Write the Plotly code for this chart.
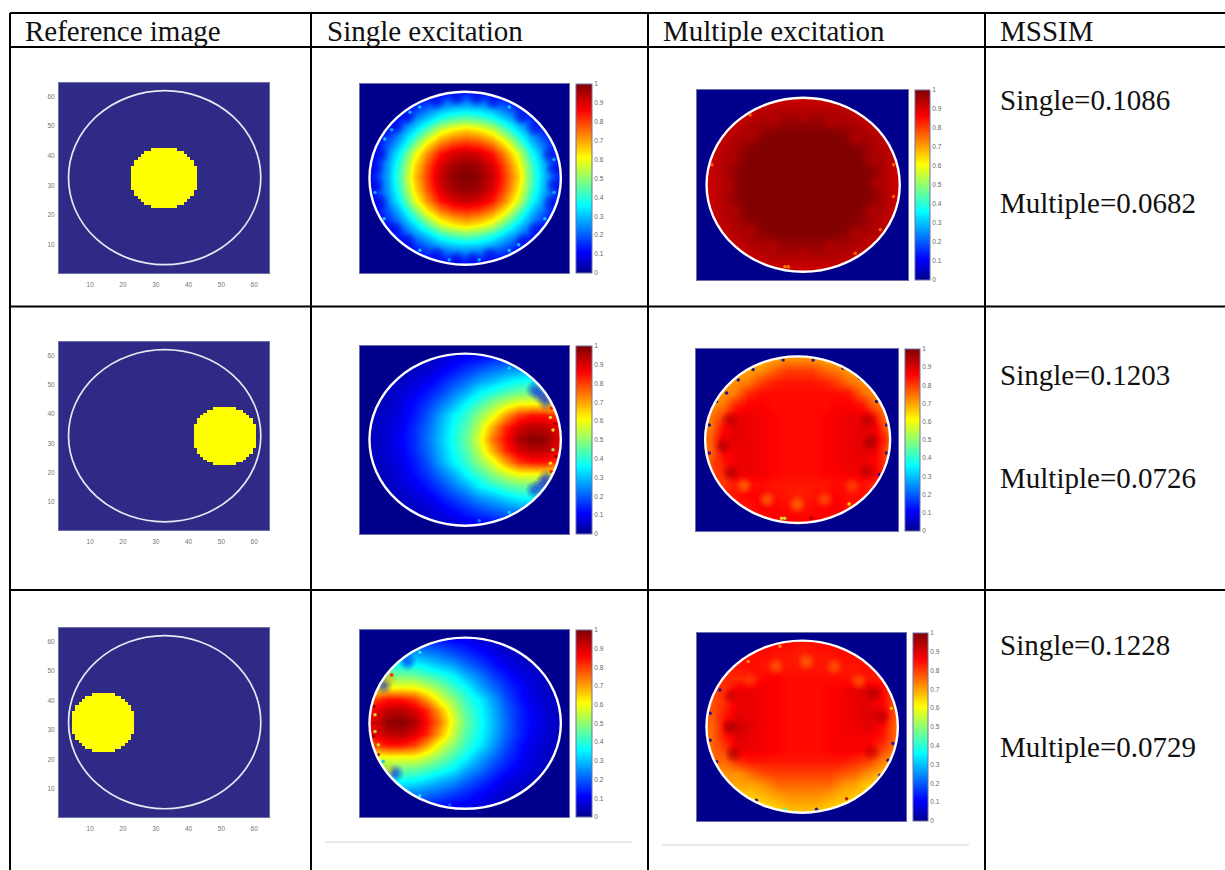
import numpy as np
import plotly.graph_objects as go

W, H = 1225, 870

# ---------- text ----------
headers = ["Reference image", "Single excitation", "Multiple excitation", "MSSIM"]
mssim_single = ["Single=0.1086", "Single=0.1203", "Single=0.1228"]
mssim_multiple = ["Multiple=0.0682", "Multiple=0.0726", "Multiple=0.0729"]

# ---------- axis grids ----------
grid_xy = [1, 5, 9, 13, 17, 21, 25, 29, 33, 37, 41, 45, 49, 53, 57, 61, 65]
ref_ticks = [10, 20, 30, 40, 50, 60]
cbar_ticks = [0, 0.1, 0.2, 0.3, 0.4, 0.5, 0.6, 0.7, 0.8, 0.9, 1]
cbar_labels = ["0", "0.1", "0.2", "0.3", "0.4", "0.5", "0.6", "0.7", "0.8", "0.9", "1"]

# ---------- reference images: yellow disc, row spans ----------
blob_rows = list(range(23, 43))
blob_inset = [6, 4, 3, 2, 1, 1, 0, 0, 0, 0, 0, 0, 0, 0, 1, 1, 2, 3, 4, 6]
blob_1_span = (23, 42)
blob_2_span = (42, 60)
blob_3_span = (5, 23)

# ---------- reconstructed fields, percent, rows from y=1 upward ----------
single_1 = [
 [8,8,8,8,8,8,8,8,8,8,8,8,8,8,8,8,8],
 [8,8,8,8,8,10,12,14,15,14,12,10,8,8,8,8,8],
 [8,8,8,10,13,19,24,27,28,27,24,19,13,10,8,8,8],
 [8,8,10,14,23,30,38,43,45,43,38,30,23,14,10,8,8],
 [8,8,13,23,33,45,57,63,66,63,57,45,33,23,13,8,8],
 [8,10,19,30,45,61,72,78,80,78,72,61,45,30,19,10,8],
 [8,12,24,38,57,72,84,90,92,90,84,72,57,38,24,12,8],
 [8,14,27,43,63,78,90,96,98,96,90,78,63,43,27,14,8],
 [8,15,28,45,66,80,92,98,100,98,92,80,66,45,28,15,8],
 [8,14,27,43,63,78,90,96,98,96,90,78,63,43,27,14,8],
 [8,12,24,38,57,72,84,90,92,90,84,72,57,38,24,12,8],
 [8,10,19,30,45,61,72,78,80,78,72,61,45,30,19,10,8],
 [8,8,13,23,33,45,57,63,66,63,57,45,33,23,13,8,8],
 [8,8,10,14,23,30,38,43,45,43,38,30,23,14,10,8,8],
 [8,8,8,10,13,19,24,27,28,27,24,19,13,10,8,8,8],
 [8,8,8,8,8,10,12,14,15,14,12,10,8,8,8,8,8],
 [8,8,8,8,8,8,8,8,8,8,8,8,8,8,8,8,8],
]
multi_1 = [
 [92,92,92,92,92,92,92,92,92,92,92,92,92,92,92,92,92],
 [92,92,92,92,92,92,92,92,92,92,92,92,92,92,92,92,92],
 [92,92,92,92,93,94,95,95,95,95,95,94,93,92,92,92,92],
 [92,92,92,93,95,96,97,98,98,98,97,96,95,93,92,92,92],
 [92,92,93,95,97,99,100,100,100,100,100,99,97,95,93,92,92],
 [92,92,94,96,99,100,100,100,100,100,100,100,99,96,94,92,92],
 [92,92,95,98,100,100,100,100,100,100,100,100,100,98,95,92,92],
 [92,92,95,99,100,100,100,100,100,100,100,100,100,99,95,92,92],
 [92,92,95,99,100,100,100,100,100,100,100,100,100,99,95,92,92],
 [92,92,95,99,100,100,100,100,100,100,100,100,100,99,95,92,92],
 [92,92,95,98,100,100,100,100,100,100,100,100,100,98,95,92,92],
 [92,92,94,96,99,100,100,100,100,100,100,100,99,96,94,92,92],
 [92,92,93,95,97,99,100,100,100,100,100,99,97,95,93,92,92],
 [92,92,92,93,95,96,97,98,98,98,97,96,95,93,92,92,92],
 [92,92,92,92,93,94,95,95,95,95,95,94,93,92,92,92,92],
 [92,92,92,92,92,92,92,92,92,92,92,92,92,92,92,92,92],
 [92,92,92,92,92,92,92,92,92,92,92,92,92,92,92,92,92],
]
single_2 = [
 [2,2,3,3,3,4,5,6,8,9,11,12,13,13,13,12,11],
 [2,2,3,3,4,5,6,8,10,11,13,15,16,16,16,15,14],
 [2,3,3,4,5,6,9,12,15,18,21,23,25,26,25,24,22],
 [3,3,4,5,7,9,13,17,21,26,29,33,36,37,37,35,32],
 [3,3,5,7,9,13,17,23,28,35,39,43,46,47,46,44,41],
 [3,4,5,8,12,16,22,28,36,42,49,55,60,60,60,58,55],
 [3,5,6,9,13,19,27,35,41,50,58,70,80,84,84,80,72],
 [3,5,7,10,15,21,29,37,44,55,69,82,90,94,93,88,82],
 [3,5,7,11,15,22,30,38,46,58,74,85,95,99,98,90,80],
 [3,5,7,10,15,21,29,37,44,55,69,82,90,94,93,88,82],
 [3,5,6,9,13,19,27,35,41,50,58,70,80,84,84,80,72],
 [3,4,5,8,12,16,22,28,36,42,49,55,60,60,60,58,55],
 [3,3,5,7,9,13,17,23,28,35,39,43,46,47,46,44,41],
 [3,3,4,5,7,9,13,17,21,26,29,33,36,37,37,35,32],
 [2,3,3,4,5,6,9,12,15,18,21,23,25,26,25,24,22],
 [2,2,3,3,4,5,6,8,10,11,13,15,16,16,16,15,14],
 [2,2,3,3,3,4,5,6,8,9,11,12,13,13,13,12,11],
]
single_3 = [
 [11,12,13,13,13,12,11,9,8,6,5,4,3,3,3,2,2],
 [14,15,16,16,16,15,13,11,10,8,6,5,4,3,3,2,2],
 [22,24,25,26,25,23,21,18,15,12,9,6,5,4,3,3,2],
 [32,35,37,37,36,33,29,26,21,17,13,9,7,5,4,3,3],
 [41,44,46,47,46,43,39,35,28,23,17,13,9,7,5,3,3],
 [55,58,60,60,60,55,49,42,36,28,22,16,12,8,5,4,3],
 [72,80,84,84,80,70,58,50,41,35,27,19,13,9,6,5,3],
 [82,88,93,94,90,82,69,55,44,37,29,21,15,10,7,5,3],
 [80,90,98,99,95,85,74,58,46,38,30,22,15,11,7,5,3],
 [82,88,93,94,90,82,69,55,44,37,29,21,15,10,7,5,3],
 [72,80,84,84,80,70,58,50,41,35,27,19,13,9,6,5,3],
 [55,58,60,60,60,55,49,42,36,28,22,16,12,8,5,4,3],
 [41,44,46,47,46,43,39,35,28,23,17,13,9,7,5,3,3],
 [32,35,37,37,36,33,29,26,21,17,13,9,7,5,4,3,3],
 [22,24,25,26,25,23,21,18,15,12,9,6,5,4,3,3,2],
 [14,15,16,16,16,15,13,11,10,8,6,5,4,3,3,2,2],
 [11,12,13,13,13,12,11,9,8,6,5,4,3,3,3,2,2],
]
multi_2 = [
 [84,84,84,84,84,84,84,84,84,84,84,84,84,84,84,84,84],
 [84,84,84,84,84,84,86,86,86,86,86,86,84,84,84,84,84],
 [84,84,84,84,84,87,86,85,84,85,86,87,84,84,84,84,84],
 [84,84,84,84,86,86,85,84,83,84,85,86,85,85,84,84,84],
 [82,82,80,84,85,85,84,84,84,84,84,85,85,85,82,80,80],
 [80,80,82,88,88,87,86,85,85,85,86,86,87,87,88,80,78],
 [78,78,84,88,88,87,86,85,85,85,86,87,88,88,86,80,78],
 [76,76,86,88,88,87,86,85,85,85,86,87,88,89,88,78,76],
 [76,76,88,89,88,87,86,85,85,85,86,87,88,89,90,80,76],
 [76,74,85,89,88,87,86,85,85,85,86,87,88,89,88,76,74],
 [74,74,80,88,88,87,86,85,85,85,86,87,88,88,84,74,74],
 [72,72,74,82,86,86,85,85,85,85,85,86,86,84,76,72,72],
 [72,72,72,74,82,85,85,85,85,85,85,85,84,76,72,72,72],
 [72,72,72,72,74,80,83,84,84,84,83,80,75,72,72,72,72],
 [70,70,70,70,70,72,76,80,80,80,76,74,71,70,70,70,70],
 [68,68,68,68,68,68,70,72,72,72,70,68,68,68,68,68,68],
 [68,68,68,68,68,68,68,68,68,68,68,68,68,68,68,68,68],
]
multi_3 = [
 [64,64,64,64,64,64,64,64,64,64,64,64,64,64,64,64,64],
 [64,64,64,64,64,64,66,68,68,68,66,64,64,64,64,64,64],
 [66,66,66,66,66,68,70,72,72,72,70,68,66,66,66,66,66],
 [70,70,70,70,70,72,76,76,76,76,76,72,70,66,66,66,66],
 [72,72,72,72,76,79,80,80,80,80,80,78,76,72,68,68,68],
 [76,76,76,82,84,84,84,84,84,84,84,84,82,80,74,70,70],
 [76,76,80,88,88,87,86,85,85,85,86,87,87,86,80,74,74],
 [76,76,84,90,88,87,86,85,85,85,86,87,87,87,84,76,76],
 [76,76,86,91,89,87,86,85,85,85,86,87,88,89,86,76,76],
 [78,78,84,89,88,87,86,85,85,85,86,87,88,90,88,78,76],
 [78,78,82,88,88,87,86,85,85,85,86,87,88,89,86,78,76],
 [80,80,82,88,88,87,86,85,85,85,86,87,89,90,86,80,78],
 [82,82,82,82,84,86,86,85,85,85,85,85,84,84,84,82,80],
 [84,84,84,84,85,84,84,84,84,84,84,84,84,85,84,84,84],
 [85,85,85,85,85,85,84,84,83,84,84,85,85,85,85,85,85],
 [86,86,86,86,86,86,86,85,84,85,86,86,86,86,86,86,86],
 [86,86,86,86,86,86,86,86,86,86,86,86,86,86,86,86,86],
]

# ---------- local features seen in the images: (x, y, value) ----------
s1_soft = [(24,58.6,.08),(30.1,59.8,.08),(36.2,59.8,.08),(41.3,58.6,.08),(15,53.5,.08),(11.5,50.2,.08),
           (6.6,40.6,.08),(5.1,36,.08),(5.1,30.4,.08),(6.6,24.2,.08),(11.2,15.2,.08),(15,11.2,.08),
           (24,6.7,.08),(30.1,5,.08),(35.2,5,.08),(40.3,6.7,.08),(50.4,11.2,.08),(54.5,15.2,.08),
           (59.1,24.2,.08),(60.1,30.4,.08),(60.1,36,.08),(58.6,40.6,.08),(54,49.6,.08),(49.9,53.5,.08)]
s1_specks = [(18.8,56.7,.33),(15.8,54.9,.3),(10.2,49,.3),(8.1,45.9,.33),(5.1,27.8,.3),(7.9,18.9,.33),
             (18.8,8.2,.33),(27.8,5,.3),(37,5,.3),(46.2,8.1,.33),(49.1,10.1,.33),(57.1,18.9,.33),
             (59.9,27.8,.3),(59.9,38.9,.3),(46.2,56.7,.33)]
m1_soft = [(24.2,54.4,.93),(32.8,55.6,.93),(41.4,53.9,.93),(48.5,48.3,.93),(53.5,41,.93),(55,33.1,.93),
           (53.5,24.1,.93),(48.5,16.2,.93),(40.9,11.7,.93),(32.8,9.7,.93),(23.2,11.7,.93),(16.6,17.4,.93),
           (11.5,24.1,.93),(10,32.5,.93),(11.3,41.2,.93),(16.6,49.4,.93)]
m1_specks = [(16.6,56.1,.75),(5,39.3,.75),(60.1,39.3,.75),(60.1,28.6,.75),(56.1,17.4,.75),(48.5,9.5,.75),
             (27.2,5,.72),(28.2,5,.72)]
s2_soft = [(54,49.5,.1),(56,47.8,.1),(57.6,45.6,.1),(54,15.6,.1),(56.4,17.3,.1),(57.6,19.5,.1)]
s2_specks = [(58.8,40.2,.55),(59.6,35.9,.6),(59.6,29.2,.5),(58.8,24.6,.6),(60.4,38,1),(60.4,26.9,1),
             (59.6,32.5,.95),(58,32.5,.95),(46.2,56.9,.33),(46.2,7.9,.33),(37,5,.25),(53.5,51.8,.3),
             (59.1,43.3,.85),(59.1,21.8,.85)]
s3_soft = [(7.6,45.4,.1),(11.2,15.5,.1),(15,53.7,.1),(9.2,48,.7),(9.2,16.7,.65)]
s3_specks = [(4.6,41.2,.55),(5.1,35.5,.55),(5.1,29.8,.5),(6.1,25.2,.55),(4.8,38.3,1),(4.6,28.1,1),
             (4.6,32.6,.95),(6.5,32.6,.95),(10.2,49.1,.85),(7.6,19.5,.3),(6.1,21.8,.95),(18.8,56.9,.4),
             (18.8,7.9,.35),(28,4.7,.2)]
m2_soft = [(11.2,39.6,.96),(9,30.3,.97),(11.5,21,.97),(55,39.6,.96),(55.8,31.7,.98),(54.5,21.5,.95),
           (15.7,16.5,.72),(23,11.6,.72),(32.5,9.9,.72),(41.3,11.6,.74),(50,16.3,.76)]
m2_specks = [(27.6,5,.55),(28.6,5,.55),(49,10,.62),(37,5,1),(18.6,57.3,.02),(28.1,60.6,.02),(37.6,60.6,.02),
             (47.1,57.7,.02),(52.3,54.2,.02),(57.7,46,.02),(60.9,37.8,.02),(4.7,37.8,.02),(4.7,27.9,.02),
             (60.9,27.9,.02),(7,46,.02),(10.2,49,.02),(13.9,53.6,.02),(58.7,20.3,.02)]
m3_soft = [(10.6,32.5,.99),(11.6,23.4,.98),(11,43,.94),(54.8,44,.96),(57,36,.95),(54,24,.94),
           (24.6,53.2,.74),(34,54.7,.73),(42.5,53,.74),(50,48,.74),(16.7,48.5,.78)]
m3_specks = [(25.9,60,.7),(16.2,54.8,.7),(60,38.9,.65),(60.5,26.9,.1),(4.5,37.2,.02),(4.5,28,.02),(27.4,4.5,.4),
             (37.1,4.5,.02),(46.3,8.1,.95),(59,21.2,.02),(56.5,16.1,.02),(6.5,20.7,.02),(18.7,7.6,.02),(7.5,45.1,.02)]

# ---------- styling ----------
JET = [[0, "#00008c"], [0.11, "#0000ff"], [0.36, "#00ffff"], [0.61, "#ffff00"], [0.86, "#ff0000"], [1, "#800000"]]
PARULA_BG = "#2e2a86"
YELLOW = "#ffff00"
NAVY = "#00008c"
SERIF = "Liberation Serif"
SANS = "Liberation Sans"
RING_X, RING_Y, RING_R = 32.7, 32.6, 29.3
SOFT_LAYERS = [(18, 0.10), (15, 0.11), (12, 0.13), (9, 0.15), (6, 0.18)]

fig = go.Figure()
axis_no = [0]
shapes = []


def add_axes(l, t, r, b, ticks=False):
    axis_no[0] += 1
    n = axis_no[0]
    common = dict(range=[0.5, 64.5], showgrid=False, zeroline=False, showline=True, mirror=True,
                  linecolor="#6f6fa8", linewidth=1, layer="above traces")
    tick = dict(tickmode="array", tickvals=ref_ticks, ticks="outside", tickcolor="rgba(0,0,0,0)",
                tickfont=dict(size=6.5, color="#777777", family=SANS)) if ticks else dict(showticklabels=False, ticks="")
    fig.layout[f"xaxis{n}"] = dict(domain=[l / W, r / W], anchor=f"y{n}", **common, **tick, **(dict(ticklen=5) if ticks else {}))
    fig.layout[f"yaxis{n}"] = dict(domain=[1 - b / H, 1 - t / H], anchor=f"x{n}", **common, **tick, **(dict(ticklen=2) if ticks else {}))
    return f"x{n}", f"y{n}"


def ring(xa, ya, width, color):
    shapes.append(dict(type="circle", xref=xa, yref=ya, x0=RING_X - RING_R, x1=RING_X + RING_R,
                       y0=RING_Y - RING_R, y1=RING_Y + RING_R, line=dict(color=color, width=width),
                       fillcolor="rgba(0,0,0,0)", layer="above"))


def ref_panel(l, t, r, b, span):
    xa, ya = add_axes(l, t, r, b, ticks=True)
    z = np.zeros((64, 64))
    for row, inset in zip(blob_rows, blob_inset):
        z[row - 1, span[0] - 1 + inset: span[1] - inset] = 1
    fig.add_trace(go.Heatmap(z=z, x=list(range(1, 65)), y=list(range(1, 65)), xaxis=xa, yaxis=ya, zmin=0, zmax=1,
                             colorscale=[[0, PARULA_BG], [1, YELLOW]], showscale=False, hoverinfo="skip"))
    ring(xa, ya, 1.7, "#e9e8f5")


def marks(pts, xa, ya, size, opacity):
    if not pts:
        return
    xs, ys, vs = zip(*pts)
    fig.add_trace(go.Scatter(x=xs, y=ys, xaxis=xa, yaxis=ya, mode="markers", showlegend=False, hoverinfo="skip",
                             marker=dict(size=size, color=vs, cmin=0, cmax=1, colorscale=JET, opacity=opacity,
                                         line=dict(width=0))))


def field_panel(l, t, r, b, cb_l, cb_r, field, soft, specks):
    xa, ya = add_axes(l, t, r, b)
    fig.add_trace(go.Heatmap(z=np.array(field) / 100, x=grid_xy, y=grid_xy, xaxis=xa, yaxis=ya, zmin=0, zmax=1,
                             zsmooth="best", colorscale=JET, hoverinfo="skip", showscale=True,
                             colorbar=dict(x=cb_l / W, xanchor="left", xpad=0, ypad=0, thickness=cb_r - cb_l,
                                           thicknessmode="pixels", len=(b - t) / H, lenmode="fraction",
                                           y=1 - (t + b) / 2 / H, yanchor="middle", tickmode="array",
                                           tickvals=cbar_ticks, ticktext=cbar_labels, ticks="", ticklen=3,
                                           tickfont=dict(size=6.5, color="#666666", family=SANS),
                                           outlinecolor="#6f6fa8", outlinewidth=1)))
    for size, opacity in SOFT_LAYERS:
        marks(soft, xa, ya, size, opacity)
    marks(specks, xa, ya, 3.5, 0.85)
    th = np.linspace(0, 2 * np.pi, 181)
    px = RING_X + RING_R * np.cos(th)
    py = RING_Y + RING_R * np.sin(th)
    hole = "M" + " L".join(f"{a:.3f},{c:.3f}" for a, c in zip(px, py)) + " Z"
    outer = "M0.5,0.5 L64.5,0.5 L64.5,64.5 L0.5,64.5 Z"
    shapes.append(dict(type="path", xref=xa, yref=ya, path=outer + " " + hole, fillcolor=NAVY,
                       line=dict(width=0), layer="above", fillrule="evenodd"))
    ring(xa, ya, 2.4, "#ffffff")


# ---------- panels ----------
ref_panel(59, 83, 269, 273, blob_1_span)
ref_panel(59, 342, 269, 530, blob_2_span)
ref_panel(59, 628, 269, 817, blob_3_span)

field_panel(360, 84, 569, 273, 576, 592, single_1, s1_soft, s1_specks)
field_panel(360, 346, 569, 534, 576, 592, single_2, s2_soft, s2_specks)
field_panel(360, 630, 569, 817, 576, 592, single_3, s3_soft, s3_specks)

field_panel(697, 90, 908, 280, 915, 930, multi_1, m1_soft, m1_specks)
field_panel(696, 349, 898, 531, 905, 920, multi_2, m2_soft, m2_specks)
field_panel(697, 633, 906, 821, 913, 928, multi_3, m3_soft, m3_specks)

# ---------- table rules ----------
def rule(x0, y0, x1, y1, color="#000000", width=2):
    shapes.append(dict(type="line", xref="paper", yref="paper", x0=x0 / W, x1=x1 / W, y0=1 - y0 / H, y1=1 - y1 / H,
                       line=dict(color=color, width=width), layer="above"))


for y in [13, 47, 306.5, 590]:
    rule(10, y, W, y)
for x in [10, 311, 648, 985]:
    rule(x, 13, x, H)
rule(325, 842, 632, 842, "#d2d2d2", 1)
rule(662, 845, 969, 845, "#d2d2d2", 1)

# ---------- text ----------
def label(x, y, text):
    return dict(text=text, x=x / W, y=1 - y / H, xref="paper", yref="paper", xanchor="left", yanchor="middle",
                showarrow=False, align="left", font=dict(family=SERIF, size=29, color="#111111"))


notes = []
for x, h in zip([23, 325, 661, 998], headers):
    notes.append(label(x, 31, h))
for y, s in zip([100, 375, 645], mssim_single):
    notes.append(label(998, y, s))
for y, m in zip([203, 478, 747], mssim_multiple):
    notes.append(label(998, y, m))

fig.update_layout(width=W, height=H, margin=dict(l=0, r=0, t=0, b=0, autoexpand=False), paper_bgcolor="white",
                  plot_bgcolor="white", showlegend=False, shapes=shapes, annotations=notes)

fig.write_html("out.html", config={"displayModeBar": False},
               post_script="document.body.style.margin='0';document.documentElement.style.overflow='hidden';")
